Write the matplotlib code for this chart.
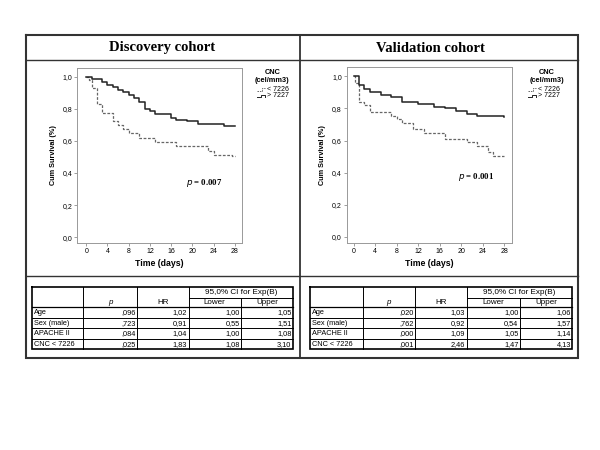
import matplotlib
matplotlib.use("Agg")
import matplotlib.pyplot as plt

# ---------------- data ----------------
disc_low_t = [0, 0.5, 1, 2, 3, 5, 6, 7, 8, 10, 13, 17, 23, 24, 27.5, 28]
disc_low_s = [1.0, 0.98, 0.93, 0.83, 0.775, 0.725, 0.70, 0.675, 0.65, 0.62, 0.595, 0.57, 0.54, 0.515, 0.505, 0.505]
disc_high_t = [0, 1, 3, 4, 5, 6, 7, 8, 9, 10, 11, 12, 13, 16, 17, 19, 21, 26, 28]
disc_high_s = [1.0, 0.985, 0.967, 0.946, 0.933, 0.92, 0.905, 0.887, 0.865, 0.84, 0.80, 0.785, 0.77, 0.745, 0.733, 0.722, 0.705, 0.69, 0.69]

val_low_t = [0, 0.3, 1, 2, 3, 7, 8, 9, 11, 13, 17, 21, 23, 25, 26, 28]
val_low_s = [1.0, 0.96, 0.84, 0.82, 0.78, 0.755, 0.735, 0.71, 0.67, 0.65, 0.61, 0.59, 0.565, 0.53, 0.505, 0.505]
val_high_t = [0, 1, 2, 3, 5, 7, 9, 12, 15, 17, 19, 21, 23, 26, 28]
val_high_s = [1.0, 0.944, 0.923, 0.902, 0.881, 0.871, 0.84, 0.827, 0.81, 0.80, 0.786, 0.767, 0.756, 0.75, 0.745]

cohort_titles = ["Discovery cohort", "Validation cohort"]
p_values = ["0.007", "0.001"]
legend_labels = ["< 7226", "> 7227"]
x_ticks = [0, 4, 8, 12, 16, 20, 24, 28]
y_ticks = [0.0, 0.2, 0.4, 0.6, 0.8, 1.0]

row_labels = ["Age", "Sex (male)", "APACHE II", "CNC < 7226"]
col_headers = ["p", "HR", "Lower", "Upper"]
ci_header = "95,0% CI for Exp(B)"
disc_p = [",096", ",723", ",084", ",025"]
disc_hr = ["1,02", "0,91", "1,04", "1,83"]
disc_lower = ["1,00", "0,55", "1,00", "1,08"]
disc_upper = ["1,05", "1,51", "1,08", "3,10"]
val_p = [",020", ",762", ",000", ",001"]
val_hr = ["1,03", "0,92", "1,09", "2,46"]
val_lower = ["1,00", "0,54", "1,05", "1,47"]
val_upper = ["1,06", "1,57", "1,14", "4,13"]

SANS = ["Liberation Sans", "DejaVu Sans"]
SERIF = ["Liberation Serif", "DejaVu Serif"]

fig = plt.figure(figsize=(6, 4.5), dpi=100)
W, H = 600, 450

# overlay axes in pixel coordinates
ov = fig.add_axes([0, 0, 1, 1])
ov.set_xlim(0, W)
ov.set_ylim(H, 0)
ov.axis("off")

frame_c = "#333333"
ov.plot([25.5, 578, 578, 25.5, 25.5], [35, 35, 357.5, 357.5, 35], color=frame_c, lw=1.5, solid_joinstyle="miter")
ov.plot([25.5, 578], [60, 60], color=frame_c, lw=1.0)
ov.plot([25.5, 578], [276, 276], color=frame_c, lw=1.0)
ov.plot([300, 300], [35, 357.5], color=frame_c, lw=1.3)

title_x = [162.5, 430]
for tx, t in zip(title_x, cohort_titles):
    ov.text(tx, 48, t, family=SERIF, weight="bold", fontsize=10.5, ha="center", va="center")


def km_panel(rect_px, xl, yl, low_t, low_s, high_t, high_s, pval, ptxt_xy, leg_x, leg_cx):
    l, t, r, b = rect_px
    ax = fig.add_axes([l / W, 1 - b / H, (r - l) / W, (b - t) / H])
    ax.step(low_t, low_s, where="post", color="#666666", lw=0.9, linestyle=(0, (2.2, 1.3)))
    ax.step(high_t, high_s, where="post", color="#222222", lw=1.1)
    ax.set_xlim(*xl)
    ax.set_ylim(*yl)
    ax.set_xticks(x_ticks)
    ax.set_xticklabels([str(v) for v in x_ticks], family=SANS, fontsize=5)
    ax.set_yticks(y_ticks)
    ax.set_yticklabels([f"{v:.1f}".replace(".", ",") for v in y_ticks], family=SANS, fontsize=5)
    ax.tick_params(length=2, width=0.5, color="#777777", pad=1.5)
    for sp in ax.spines.values():
        sp.set_color("#999999")
        sp.set_linewidth(0.7)
    ax.set_xlabel("Time (days)", family=SANS, weight="bold", fontsize=6.3, labelpad=3)
    ax.set_ylabel("Cum Survival (%)", family=SANS, weight="bold", fontsize=5.2, labelpad=4)
    ax.text(ptxt_xy[0], ptxt_xy[1], "$\\mathbf{\\it{p}}$ = " + pval, family=SERIF, weight="bold",
            fontsize=6.3, ha="center", va="center", transform=ax.transData)
    ov.text(leg_cx, 73, "CNC", family=SANS, weight="bold", fontsize=5.3, ha="center", va="center")
    ov.text(leg_cx, 81, "(cel/mm3)", family=SANS, weight="bold", fontsize=5.3, ha="center", va="center")
    sx = leg_x
    ov.plot([sx, sx + 5, sx + 5, sx + 8], [90.5, 90.5, 88, 88], color="#666666", lw=0.7, linestyle=(0, (1.5, 1)))
    ov.plot([sx, sx + 4, sx + 4, sx + 8, sx + 8], [97, 97, 94.5, 94.5, 96.5], color="#222222", lw=0.7)
    ov.text(sx + 10, 89.3, legend_labels[0], family=SANS, fontsize=5, ha="left", va="center")
    ov.text(sx + 10, 95.7, legend_labels[1], family=SANS, fontsize=5, ha="left", va="center")
    return ax


km_panel((77.3, 67.7, 241.7, 243.3), (-1.69, 29.3), (-0.0375, 1.056),
         disc_low_t, disc_low_s, disc_high_t, disc_high_s, p_values[0], (22.3, 0.34), 257, 272.3)
km_panel((346.7, 66.7, 512.3, 243.3), (-1.31, 29.5), (-0.04, 1.06),
         val_low_t, val_low_s, val_high_t, val_high_s, p_values[1], (22.8, 0.37), 528, 546.7)


def draw_table(cols, p, hr, lo, up):
    rows = [287.3, 297.8, 307.3, 317.8, 328.3, 338.8, 349.3]
    c = cols
    lw_in = 0.7
    lw_out = 1.2
    ov.plot([c[0], c[-1], c[-1], c[0], c[0]], [rows[0], rows[0], rows[-1], rows[-1], rows[0]],
            color="black", lw=lw_out, solid_joinstyle="miter")
    ov.plot([c[3], c[5]], [rows[1], rows[1]], color="black", lw=lw_in)
    for y in rows[2:-1]:
        ov.plot([c[0], c[5]], [y, y], color="black", lw=lw_in if y != rows[2] else 0.9)
    for x in c[1:4]:
        ov.plot([x, x], [rows[0], rows[-1]], color="black", lw=lw_in)
    ov.plot([c[4], c[4]], [rows[1], rows[-1]], color="black", lw=lw_in)
    fs = 5.3
    ov.text((c[3] + c[5]) / 2, (rows[0] + rows[1]) / 2 + 0.3, ci_header, family=SANS, fontsize=5.9, ha="center", va="center")
    hy = (rows[1] + rows[2]) / 2 + 0.3
    ov.text((c[1] + c[2]) / 2, hy, col_headers[0], family=SANS, style="italic", fontsize=5.8, ha="center", va="center")
    ov.text((c[2] + c[3]) / 2, hy, col_headers[1], family=SANS, fontsize=5.8, ha="center", va="center")
    ov.text((c[3] + c[4]) / 2, hy, col_headers[2], family=SANS, fontsize=5.8, ha="center", va="center")
    ov.text((c[4] + c[5]) / 2, hy, col_headers[3], family=SANS, fontsize=5.8, ha="center", va="center")
    for i, lab in enumerate(row_labels):
        yc = (rows[2 + i] + rows[3 + i]) / 2 + 0.3
        ov.text(c[0] + 1.5, yc, lab, family=SANS, fontsize=fs, ha="left", va="center")
        for j, vals in enumerate([p, hr, lo, up]):
            ov.text(c[j + 2] - 1.5, yc, vals[i], family=SANS, fontsize=fs, ha="right", va="center")


draw_table([32, 83, 137, 188.5, 241, 293], disc_p, disc_hr, disc_lower, disc_upper)
draw_table([310, 362.7, 415, 466.7, 520, 572.3], val_p, val_hr, val_lower, val_upper)

fig.savefig("out.png", dpi=100)
